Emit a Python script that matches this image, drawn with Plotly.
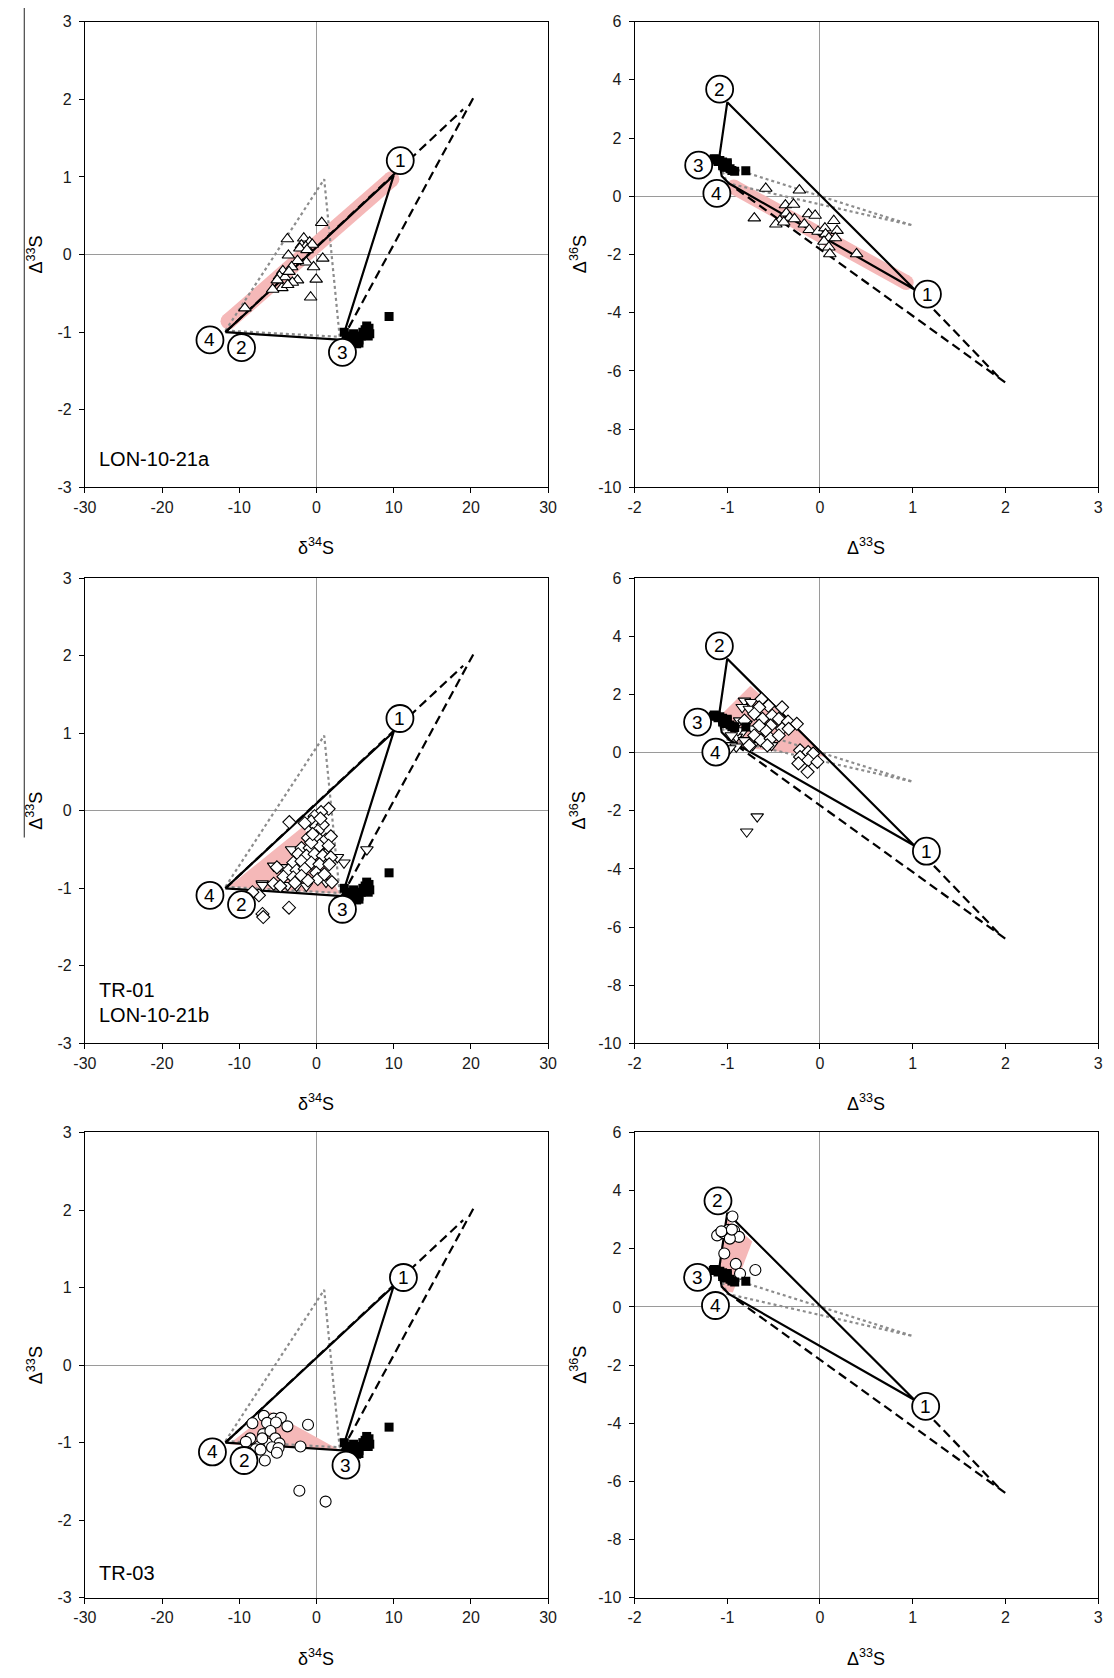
import plotly.graph_objects as go

FONT = "Arial, 'Liberation Sans', Helvetica, sans-serif"
PINK = "#f5b8b8"
GRAY = "#8c8c8c"

# ---------------- data ----------------
# black squares (reference samples): d34S, D33S, D36S
sq_d34 = [9.4, 6.5, 6.8, 6.3, 6.9, 6.7, 6.0, 5.8, 5.5, 5.2, 5.0, 4.5, 4.0, 3.6, 4.8, 5.5]
sq_D33 = [-0.80, -0.92, -0.95, -0.97, -1.02, -1.05, -1.00, -1.05, -1.10, -1.15, -1.12, -1.08, -1.05, -1.00, -1.02, -1.14]
sq_D36 = [0.88, 0.86, 0.89, 0.95, 1.01, 1.05, 1.15, 1.12, 1.20, 1.25, 1.27, 1.23, 1.18, 1.10, 1.00, 1.29]

# LON-10-21a (open triangles)
a_d34 = [0.68, -3.77, -1.65, -0.89, -1.95, -1.40, -2.16, -0.55, -1.23, -3.64, 0.81, -1.31, -2.46, -0.38,
         -3.22, -4.36, -0.04, -4.79, -4.07, -2.46, -3.13, -4.49, -5.68, -3.73, -0.76, -9.28, -5.08, -3.56]
a_D33 = [0.41, 0.20, 0.21, 0.16, 0.12, 0.10, 0.08, 0.13, 0.06, -0.01, -0.05, -0.10, -0.08, -0.16,
         -0.16, -0.21, -0.32, -0.28, -0.29, -0.33, -0.36, -0.43, -0.45, -0.39, -0.55, -0.69, -0.33, -0.22]
a_D33r = [-0.585, -0.222, -0.373, -0.285, -0.708, -0.363, -0.327, -0.433, -0.476, -0.275, -0.123, -0.052, -0.169,
          -0.116, -0.021, 0.053, 0.149, 0.184, 0.060, 0.096, 0.166, 0.043, 0.096, 0.106, 0.395, -0.391]
a_D36r = [0.27, 0.21, -0.30, -0.28, -0.75, -0.58, -0.73, -0.84, -0.96, -0.78, -0.61, -0.66, -0.96,
          -1.15, -1.21, -1.09, -0.84, -1.18, -1.30, -1.43, -1.43, -1.55, -1.75, -1.98, -1.98, -0.89]

# TR-01 (open diamonds)
b_d34 = [-3.52, 1.57, 0.59, -0.25, -0.68, -1.52, -0.04, 0.81, 0.17, -1.10, -0.04, 1.23, 1.86, -1.95, -0.89,
         0.38, 1.57, -2.37, -1.31, -0.25, 0.81, 1.86, -3.01, -1.95, -0.68, 0.38, 1.65, -3.64, -2.58, -1.52,
         -0.04, -5.13, -4.28, -3.01, -1.95, 0.17, 1.99, -5.55, -7.46, -8.30, -3.56, -7.0, -6.9, -2.8, -1.1,
         -4.7, 1.02, -0.68, 0.5, -0.5]
b_D33 = [-0.145, 0.025, -0.017, -0.07, -0.14, -0.16, -0.20, -0.18, -0.26, -0.35, -0.33, -0.37, -0.33, -0.48, -0.48,
         -0.45, -0.45, -0.56, -0.58, -0.56, -0.58, -0.60, -0.67, -0.65, -0.67, -0.69, -0.69, -0.77, -0.77, -0.75,
         -0.80, -0.73, -0.85, -0.86, -0.84, -0.88, -0.92, -0.94, -1.09, -1.05, -1.25, -1.33, -1.37, -0.93, -0.90,
         -0.97, -0.82, -0.41, -0.10, -0.30]
b_D33r = [-0.631, -0.557, -0.409, -0.656, -0.709, -0.620, -0.515, -0.444, -0.345, -0.250, -0.532, -0.585, -0.409,
          -0.709, -0.638, -0.532, -0.444, -0.656, -0.215, -0.127, -0.074, -0.215, -0.127, -0.233, -0.134, -0.028,
          -0.762, -0.568, -0.815, -0.338]
b_D36r = [1.84, 1.61, 1.56, 1.56, 1.33, 1.16, 1.27, 1.16, 1.07, 0.99, 0.93, 0.76, 0.82,
          0.59, 0.42, 0.48, 0.59, 0.93, 0.08, 0.02, -0.03, -0.15, -0.26, -0.37, -0.66, -0.32,
          0.25, 0.25, 1.10, 0.82]

# LON-10-21b (open inverted triangles)
c_d34 = [-3.22, -5.55, -1.95, 3.56, 2.71, -7.03, -3.73, -2.58, -1.31, 1.23, 6.53, -4.49, -6.99, -1.0, 0.3]
c_D33 = [-0.50, -0.71, -0.80, -0.67, -0.60, -0.94, -0.96, -0.97, -0.97, -0.92, -0.50, -0.73, -0.96, -0.62, -0.52]
c_D33r = [-0.815, -0.744, -0.839, -0.762, -0.867, -0.797, -0.726, -0.839, -0.903, -0.815, -0.673, -0.568,
          -0.956, -0.903, -0.726, -0.522, -0.938, -0.885, -0.956, -0.79, -0.677, -0.973]
c_D36r = [1.78, 1.73, 1.56, 1.50, 1.10, 0.99, 0.82, 0.71, 0.54, 0.42, 0.54, 0.31,
          0.25, 0.20, 0.25, 0.25, 0.93, 0.76, 0.59, -2.72, -2.20, 0.14]

# TR-03 (open circles)
d_d34 = [-6.82, -5.55, -4.62, -3.77, -8.30, -6.40, -5.25, -1.10, -6.91, -5.97, -8.60, -5.34, -6.40, -4.79,
         -7.46, -5.76, -7.88, -7.25, -4.92, -9.15, -2.08, -6.69, -7.03, -5.13, -2.22, 1.18]
d_D33 = [-0.655, -0.69, -0.68, -0.79, -0.75, -0.745, -0.74, -0.77, -0.89, -0.85, -0.945, -0.945, -1.01, -1.01,
         -1.05, -1.06, -1.085, -1.09, -1.07, -0.99, -1.05, -1.23, -0.945, -1.13, -1.62, -1.76]
d_D33r = [-0.944, -0.989, -0.926, -1.085, -1.109, -1.039, -0.873, -0.972, -1.032, -0.908, -0.862, -0.697, -1.063, -0.95]
d_D36r = [3.11, 2.65, 2.63, 2.52, 2.46, 2.54, 2.41, 2.35, 1.84, 1.48, 1.14, 1.27, 2.60, 2.66]

# mixing model geometry, d34S-D33S space
mix_d34 = [-11.8, 10.0, 3.3, -11.8]
mix_D33 = [-1.0, 1.02, -1.1, -1.0]
dashA_d34 = [-11.8, 19.0]
dashA_D33 = [-1.0, 1.87]
dashB_d34 = [3.3, 20.6]
dashB_D33 = [-1.1, 2.07]
dot_d34 = [-11.8, 1.0, 3.0, -11.8]
dot_D33 = [-0.98, 0.97, -1.06, -0.98]
# mixing model geometry, D33S-D36S space
mixR_D33 = [1.02, -1.0, -1.09, -1.06, -0.98, 1.02]
mixR_D36 = [-3.2, 3.23, 1.25, 0.7, 0.44, -3.2]
dashRA_D33 = [-0.9, 2.0]
dashRA_D36 = [0.25, -6.4]
dashRB_D33 = [1.02, 1.93]
dashRB_D36 = [-3.2, -6.22]
dotR_D33 = [-1.08, 1.0, -1.0, -1.08]
dotR_D36 = [1.1, -1.0, 0.45, 1.1]

# pink highlighted fields
band_L1_x = [-11.4, 9.7]
band_L1_y = [-0.86, 0.97]
band_R1_x = [-0.93, 0.93]
band_R1_y = [0.32, -2.96]
fill_L2_x = [-11.4, -1.7, 3.0]
fill_L2_y = [-0.98, -0.2, -1.07]
fill_R2_x = [-1.05, -0.75, 0.08, -0.9]
fill_R2_y = [1.35, 2.3, -0.15, 0.2]
fill_L3_x = [-11.35, -6.0, 3.1]
fill_L3_y = [-1.02, -0.6, -1.1]
fill_R3_x = [-1.02, -0.73, -0.94, -1.05, -1.09]
fill_R3_y = [3.05, 2.25, 0.5, 0.55, 1.4]

# circled end-member labels (1, 2, 3, 4) per panel
lab_text = ["1", "2", "3", "4"]
lab_L1 = ([10.85, -9.71, 3.36, -13.8], [1.21, -1.20, -1.26, -1.10])
lab_L2 = ([10.81, -9.71, 3.36, -13.8], [1.19, -1.21, -1.27, -1.09])
lab_L3 = ([11.26, -9.39, 3.82, -13.48], [1.13, -1.23, -1.29, -1.12])
lab_R1 = ([1.159, -1.082, -1.308, -1.112], [-3.36, 3.68, 1.07, 0.10])
lab_R2 = ([1.148, -1.085, -1.32, -1.123], [-3.39, 3.67, 1.05, 0.02])
lab_R3 = ([1.14, -1.10, -1.32, -1.127], [-3.42, 3.65, 1.02, 0.05])

# axis settings
left_xticks = [-30, -20, -10, 0, 10, 20, 30]
left_yticks = [-3, -2, -1, 0, 1, 2, 3]
right_xticks = [-2, -1, 0, 1, 2, 3]
right_yticks = [-10, -8, -6, -4, -2, 0, 2, 4, 6]

# ---------------- figure ----------------
W, H = 1114, 1678
fig = go.Figure()

AX = {"L1": ("x", "y"), "R1": ("x2", "y2"), "L2": ("x3", "y3"),
      "R2": ("x4", "y4"), "L3": ("x5", "y5"), "R3": ("x6", "y6")}
LW = 2.2
ann = []


def add(panel, x, y, **kw):
    xa, ya = AX[panel]
    fig.add_trace(go.Scatter(x=x, y=y, xaxis=xa, yaxis=ya, showlegend=False,
                             hoverinfo="skip", **kw))


def band(panel, x, y, w):
    add(panel, x, y, mode="lines+markers", line=dict(color=PINK, width=w),
        marker=dict(color=PINK, size=w, symbol="circle", line=dict(width=0)))


def fill(panel, x, y):
    add(panel, x, y, mode="lines", fill="toself", fillcolor=PINK, line=dict(width=0, color=PINK))


def model_left(panel):
    add(panel, dot_d34, dot_D33, mode="lines", line=dict(color=GRAY, width=2.2, dash="dot"))
    add(panel, mix_d34, mix_D33, mode="lines", line=dict(color="black", width=LW))
    add(panel, dashA_d34, dashA_D33, mode="lines", line=dict(color="black", width=LW, dash="9px,5px"))
    add(panel, dashB_d34, dashB_D33, mode="lines", line=dict(color="black", width=LW, dash="9px,5px"))


def model_right(panel):
    add(panel, dotR_D33, dotR_D36, mode="lines", line=dict(color=GRAY, width=2.2, dash="dot"))
    add(panel, mixR_D33, mixR_D36, mode="lines", line=dict(color="black", width=LW))
    add(panel, dashRA_D33, dashRA_D36, mode="lines", line=dict(color="black", width=LW, dash="9px,5px"))
    add(panel, dashRB_D33, dashRB_D36, mode="lines", line=dict(color="black", width=LW, dash="9px,5px"))


def pts(panel, x, y, symbol, size):
    add(panel, x, y, mode="markers",
        marker=dict(symbol=symbol, size=size, color="white", line=dict(color="black", width=1.1)))


def squares(panel, x, y):
    add(panel, x, y, mode="markers",
        marker=dict(symbol="square", size=9, color="black", line=dict(color="black", width=0)))


def labels(panel, lab):
    add(panel, lab[0], lab[1], mode="markers",
        marker=dict(symbol="circle", size=27, color="white", line=dict(color="black", width=1.8)))
    xa, ya = AX[panel]
    for t, xv, yv in zip(lab_text, lab[0], lab[1]):
        ann.append(dict(text=t, x=xv, y=yv, xref=xa, yref=ya, showarrow=False,
                        xanchor="center", yanchor="middle",
                        font=dict(family=FONT, size=19, color="black")))


# Row 1
band("L1", band_L1_x, band_L1_y, 16)
model_left("L1")
pts("L1", a_d34, a_D33, "triangle-up", 11)
squares("L1", sq_d34, sq_D33)
labels("L1", lab_L1)

band("R1", band_R1_x, band_R1_y, 15)
model_right("R1")
pts("R1", a_D33r, a_D36r, "triangle-up", 11)
squares("R1", sq_D33, sq_D36)
labels("R1", lab_R1)

# Row 2
fill("L2", fill_L2_x, fill_L2_y)
model_left("L2")
pts("L2", c_d34, c_D33, "triangle-down", 11)
pts("L2", b_d34, b_D33, "diamond", 10)
squares("L2", sq_d34, sq_D33)
labels("L2", lab_L2)

fill("R2", fill_R2_x, fill_R2_y)
model_right("R2")
pts("R2", c_D33r, c_D36r, "triangle-down", 11)
pts("R2", b_D33r, b_D36r, "diamond", 10)
squares("R2", sq_D33, sq_D36)
labels("R2", lab_R2)

# Row 3
fill("L3", fill_L3_x, fill_L3_y)
model_left("L3")
pts("L3", d_d34, d_D33, "circle", 11)
squares("L3", sq_d34, sq_D33)
labels("L3", lab_L3)

fill("R3", fill_R3_x, fill_R3_y)
model_right("R3")
pts("R3", d_D33r, d_D36r, "circle", 11)
squares("R3", sq_D33, sq_D36)
labels("R3", lab_R3)

# ---------------- layout ----------------
col_dom = {"L": [74.3 / W, 546.4 / W], "R": [634.5 / W, 1107.0 / W]}
row_px = [(13.8, 484.3), (576.0, 1046.0), (1136.0, 1606.0)]
row_dom = [[1 - b / H, 1 - t / H] for t, b in row_px]

tickfont = dict(family=FONT, size=16, color="#1a1a1a")


def ticklabels(vals):
    return [str(v) for v in vals]  # plain hyphen-minus as in the original


def axis_common():
    return dict(showline=True, mirror=True, linecolor="black", linewidth=1,
                ticks="outside", ticklen=5, tickwidth=1, tickcolor="black",
                showgrid=False, zeroline=True, zerolinecolor="#9a9a9a", zerolinewidth=1,
                tickfont=tickfont, fixedrange=True)


layout_axes = {}
order = [("L", 0), ("R", 0), ("L", 1), ("R", 1), ("L", 2), ("R", 2)]
for i, (c, r) in enumerate(order, start=1):
    xn = "xaxis" if i == 1 else f"xaxis{i}"
    yn = "yaxis" if i == 1 else f"yaxis{i}"
    xa = axis_common()
    ya = axis_common()
    ya.update(ticklabelstandoff=4)
    if c == "L":
        xa.update(range=[-30, 30], tickvals=left_xticks, ticktext=ticklabels(left_xticks))
        ya.update(range=[-3, 3], tickvals=left_yticks, ticktext=ticklabels(left_yticks))
    else:
        xa.update(range=[-2, 3], tickvals=right_xticks, ticktext=ticklabels(right_xticks))
        ya.update(range=[-10, 6], tickvals=right_yticks, ticktext=ticklabels(right_yticks))
    xa.update(domain=col_dom[c], anchor="y" if i == 1 else f"y{i}")
    ya.update(domain=row_dom[r], anchor="x" if i == 1 else f"x{i}")
    layout_axes[xn] = xa
    layout_axes[yn] = ya

fig.update_layout(**layout_axes)

tf = dict(family=FONT, size=18, color="black")
for r, (t, b) in enumerate(row_px):
    ty = 1 - (b + 60) / H
    ann.append(dict(text="δ<sup>34</sup>S", x=(74.3 + 546.4) / 2 / W, y=ty, xref="paper", yref="paper",
                    showarrow=False, font=tf, xanchor="center", yanchor="middle"))
    ann.append(dict(text="Δ<sup>33</sup>S", x=(634.5 + 1107.0) / 2 / W, y=ty, xref="paper", yref="paper",
                    showarrow=False, font=tf, xanchor="center", yanchor="middle"))
    cy = 1 - ((t + b) / 2) / H
    ann.append(dict(text="Δ<sup>33</sup>S", x=23.5 / W, y=cy, xref="paper", yref="paper", textangle=-90,
                    showarrow=False, font=tf, xanchor="center", yanchor="middle"))
    ann.append(dict(text="Δ<sup>36</sup>S", x=577.5 / W, y=cy, xref="paper", yref="paper", textangle=-90,
                    showarrow=False, font=tf, xanchor="center", yanchor="middle"))

sf = dict(family=FONT, size=20, color="black")
for txt, py in [("LON-10-21a", 456), ("TR-01", 992), ("LON-10-21b", 1017), ("TR-03", 1581)]:
    ann.append(dict(text=txt, x=86.5 / W, y=1 - py / H, xref="paper", yref="paper", showarrow=False,
                    font=sf, xanchor="left", yanchor="middle"))

fig.update_layout(
    width=W, height=H, autosize=False,
    margin=dict(l=0, r=0, t=0, b=0, pad=0),
    paper_bgcolor="white", plot_bgcolor="white",
    font=dict(family=FONT, color="black"),
    annotations=ann,
    shapes=[dict(type="line", xref="paper", yref="paper", x0=12.5 / W, x1=12.5 / W,
                 y0=1 - 838 / H, y1=1.0, line=dict(color="#222", width=1))],
)

fig.write_html("out.html", config={"displayModeBar": False},
               post_script="document.body.style.margin='0px';document.body.style.overflow='hidden';")
